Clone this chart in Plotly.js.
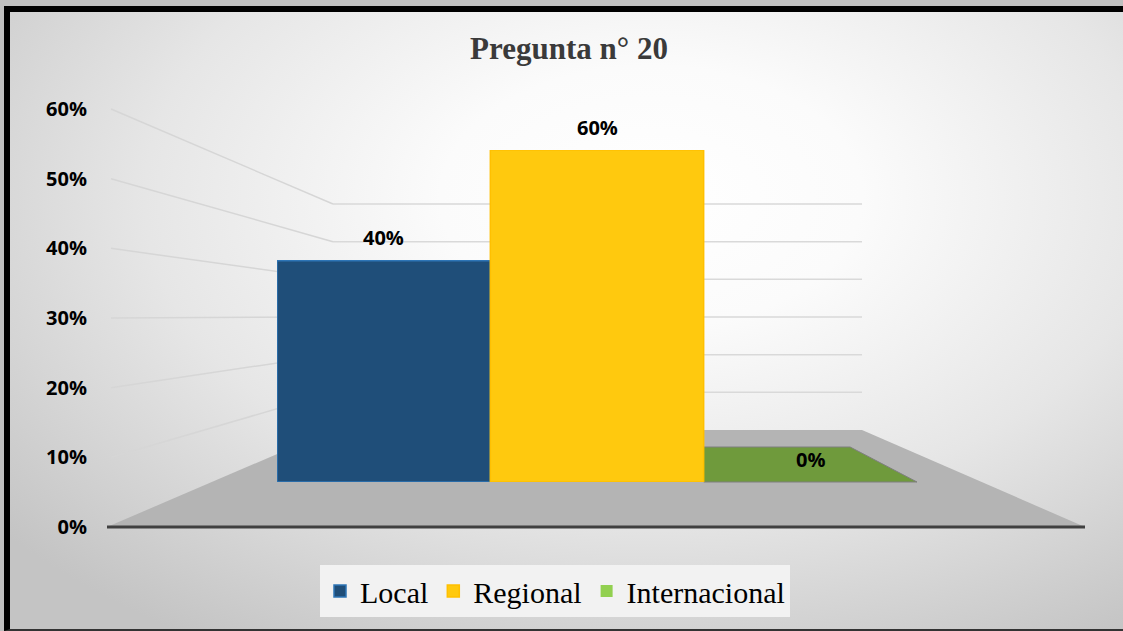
<!DOCTYPE html>
<html><head><meta charset="utf-8">
<script src="https://cdn.plot.ly/plotly-3.0.1.min.js"></script>
<style>
html,body{margin:0;padding:0;background:#bfbfbf;width:1123px;height:631px;overflow:hidden;}
#bg{position:absolute;left:4px;top:6px;width:1125px;height:617px;border-left:6px solid #000;border-top:6px solid #000;border-bottom:2px solid #333;
background: radial-gradient(ellipse 75% 85% at 57% 30%, #ffffff 0%, #fbfbfb 25%, #e6e6e6 60%, #c4c4c4 100%);}
#chart{position:absolute;left:0;top:0;width:1123px;height:631px;}
</style></head>
<body>
<div id="bg"></div>
<div id="chart"></div>
<script>
// ---- data ----
const categories = ['Local', 'Regional', 'Internacional'];
const values = [0.40, 0.60, 0.00];
const barColors = ['#1F4E79', '#FFC90E', '#92D050'];
const barLines = ['#2E75B6', '#FFC000', '#7F7F7F'];
const tickValues = [0, 0.1, 0.2, 0.3, 0.4, 0.5, 0.6];
const tickLabels = ['0%', '10%', '20%', '30%', '40%', '50%', '60%'];
const chartTitle = 'Pregunta n° 20';

// ---- geometry (pixels) ----
const W = 1123, H = 631;
const fx = p => p / W, fy = p => 1 - p / H;
const X0 = 107, X1 = 1085, YF = 527, YTL = 109;   // front floor edge / left scale
const XB0 = 333, XB1 = 862, YB = 430, YBT = 204;   // back wall
const BX0 = 277, BX1 = 917, BY0 = 482, BYT = 150;  // bar plane (0 and 60%)
const vmax = 0.6;
// vanishing point
const tL = (X1 - X0) / ((XB0 - X0) - (XB1 - X1));
const VPX = X0 + (XB0 - X0) * tL, VPY = YF + (YB - YF) * tL;
const toward = (x, y, ty) => { const t = (y - ty) / (y - VPY); return x + (VPX - x) * t; };

const shapes = [];
const pt = (x, y) => fx(x).toFixed(5) + ',' + fy(y).toFixed(5);
// floor
shapes.push({type: 'path', xref: 'paper', yref: 'paper', layer: 'below',
  path: 'M' + pt(X0, YF) + 'L' + pt(X1, YF) + 'L' + pt(XB1, YB) + 'L' + pt(XB0, YB) + 'Z',
  fillcolor: '#B4B4B4', line: {width: 0}});
// back wall gridlines and side wall lines
tickValues.forEach(v => {
  if (v === 0) return;
  const yb = YB - (YB - YBT) * v / vmax;
  const yl = YF - (YF - YTL) * v / vmax;
  shapes.push({type: 'line', xref: 'paper', yref: 'paper', layer: 'below',
    x0: fx(XB0), x1: fx(XB1), y0: fy(yb), y1: fy(yb), line: {color: '#D9D9D9', width: 1.5}});
  shapes.push({type: 'line', xref: 'paper', yref: 'paper', layer: 'below',
    x0: fx(X0 + 4), x1: fx(XB0), y0: fy(yl), y1: fy(yb), line: {color: '#D6D6D6', width: 1.5}});
});
// floor front edge
shapes.push({type: 'line', xref: 'paper', yref: 'paper', layer: 'below',
  x0: fx(X0), x1: fx(X1), y0: fy(YF), y1: fy(YF), line: {color: '#404040', width: 3}});
// top face of zero-height bars (plates on floor)
const slot = (BX1 - BX0) / categories.length;
const depthY = 447;
values.forEach((v, i) => {
  if (v !== 0) return;
  const xl = BX0 + slot * i, xr = xl + slot;
  const xbl = toward(xl, BY0, depthY), xbr = toward(xr, BY0, depthY);
  shapes.push({type: 'path', xref: 'paper', yref: 'paper', layer: 'below',
    path: 'M' + pt(xl, BY0) + 'L' + pt(xr, BY0) + 'L' + pt(xbr, depthY) + 'L' + pt(xbl, depthY) + 'Z',
    fillcolor: '#6F9A3C', line: {color: '#7F7F7F', width: 1}});
});

const traces = categories.map((c, i) => ({
  type: 'bar', name: c, x: [c], y: [values[i]], xaxis: 'x2', yaxis: 'y2',
  marker: {color: barColors[i], line: {color: barLines[i], width: i === 2 ? 0 : 1.5}},
  hoverinfo: 'skip'
}));
// invisible trace to hold left axis
traces.push({type: 'scatter', x: [0], y: [0], xaxis: 'x', yaxis: 'y', mode: 'markers',
  marker: {opacity: 0}, showlegend: false, hoverinfo: 'skip'});

const labelFont = {family: 'Open Sans, sans-serif', size: 20, color: '#000', weight: 700};
const annotations = categories.map((c, i) => ({
  xref: 'x2', yref: 'y2', x: c, y: values[i], yshift: 23, showarrow: false,
  text: Math.round(values[i] * 100) + '%', font: labelFont, yanchor: 'middle'
}));

const layout = {
  width: W, height: H, margin: {l: 0, r: 0, t: 0, b: 0},
  paper_bgcolor: 'rgba(0,0,0,0)', plot_bgcolor: 'rgba(0,0,0,0)',
  title: {text: chartTitle, x: fx(569), xanchor: 'center', y: fy(48), yanchor: 'middle',
    font: {family: 'Liberation Serif, Times New Roman, serif', size: 31, color: '#3A3A3A', weight: 700}},
  showlegend: true,
  legend: {orientation: 'h', x: fx(555), xanchor: 'center', y: fy(591), yanchor: 'middle',
    bgcolor: '#F2F2F2', font: {family: 'Liberation Serif, Times New Roman, serif', size: 30, color: '#000'},
    traceorder: 'normal', itemclick: false},
  barmode: 'overlay', bargap: 0,
  xaxis: {domain: [fx(X0), fx(X1)], range: [0, 1], visible: false, fixedrange: true},
  yaxis: {domain: [fy(YF), fy(YTL)], range: [0, vmax], anchor: 'x', tickvals: tickValues, ticktext: tickLabels,
    showgrid: false, zeroline: false, showline: false, ticks: '', ticklabelstandoff: 19, automargin: false,
    tickfont: labelFont, fixedrange: true},
  xaxis2: {domain: [fx(BX0), fx(BX1)], range: [-0.5, categories.length - 0.5], type: 'category',
    categoryorder: 'array', categoryarray: categories, anchor: 'y2', visible: false, fixedrange: true},
  yaxis2: {domain: [fy(BY0), fy(BYT)], range: [0, vmax], anchor: 'x2', visible: false, fixedrange: true},
  shapes: shapes, annotations: annotations
};
Plotly.newPlot('chart', traces, layout, {displayModeBar: false, staticPlot: true});
</script>
</body></html>
